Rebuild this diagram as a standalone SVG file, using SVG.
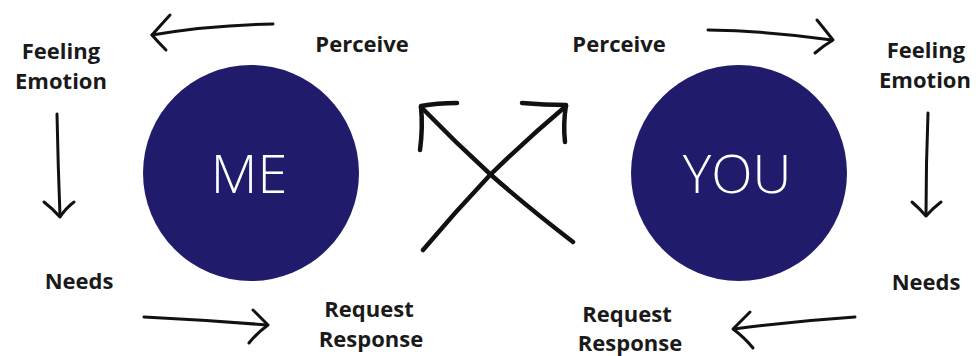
<svg xmlns="http://www.w3.org/2000/svg" width="976" height="356" viewBox="0 0 976 356">
<style>
.lbl{font-family:"Open Sans","Noto Sans","Liberation Sans",sans-serif;font-weight:700;font-size:22px;fill:#1a1a1a;text-anchor:middle}
.big{font-family:"Open Sans","Noto Sans","Liberation Sans",sans-serif;font-weight:300;font-size:54px;fill:#ffffff;text-anchor:middle}
.circ{fill:#201c6b}
.arr{fill:none;stroke:#111;stroke-width:3;stroke-linecap:round;stroke-linejoin:round}
.arrb{fill:none;stroke:#111;stroke-width:4.5;stroke-linecap:round;stroke-linejoin:round}
</style>
<rect width="976" height="356" fill="#ffffff"/>
<g id="me"><circle class="circ" cx="251" cy="173" r="108"/><text class="big" x="249" y="193">ME</text></g>
<g id="you"><circle class="circ" cx="739" cy="173" r="108"/><text class="big" x="737" y="193">YOU</text></g>
<g id="me-feeling"><text class="lbl" x="61" y="59">Feeling</text><text class="lbl" x="61" y="89">Emotion</text></g>
<g id="me-perceive"><text class="lbl" x="362" y="52">Perceive</text></g>
<g id="me-needs"><text class="lbl" x="79" y="289">Needs</text></g>
<g id="me-request"><text class="lbl" x="369" y="317">Request</text><text class="lbl" x="371" y="347">Response</text></g>
<g id="you-perceive"><text class="lbl" x="619" y="52">Perceive</text></g>
<g id="you-feeling"><text class="lbl" x="926" y="58">Feeling</text><text class="lbl" x="925" y="88">Emotion</text></g>
<g id="you-needs"><text class="lbl" x="926" y="290">Needs</text></g>
<g id="you-request"><text class="lbl" x="627" y="322">Request</text><text class="lbl" x="630" y="351">Response</text></g>
<g id="connectors">
<path class="arr" d="M273 24 Q210 25 152 35"/>
<path class="arr" d="M170 15 Q160 26 152 35 Q158 42 166 50"/>
<path class="arr" d="M57 114 Q58 165 60 216"/>
<path class="arr" d="M44 202 Q53 209 60 217 Q66 208 74 202"/>
<path class="arr" d="M144 317 Q205 320 267 325"/>
<path class="arr" d="M253 310 Q261 318 268 325 Q257 333 249 343"/>
<path class="arr" d="M708 30 Q770 31 832 40"/>
<path class="arr" d="M817 20 Q826 31 833 40 Q823 46 815 53"/>
<path class="arr" d="M928 113 Q926 164 926 215"/>
<path class="arr" d="M912 202 Q919 208 926 216 Q933 208 941 202"/>
<path class="arr" d="M855 317 Q795 321 734 329"/>
<path class="arr" d="M750 312 Q741 321 733 329 Q744 337 753 348"/>
<path class="arrb" d="M573 242 Q525 205 490 174 Q455 142 421 107"/>
<path class="arrb" d="M457 103 Q437 103 421 106 Q423 128 420 150"/>
<path class="arrb" d="M423 250 Q455 212 490 175 Q528 138 566 106"/>
<path class="arrb" d="M522 103 Q545 105 566 105 Q563 124 565 142"/>
</g>
</svg>
